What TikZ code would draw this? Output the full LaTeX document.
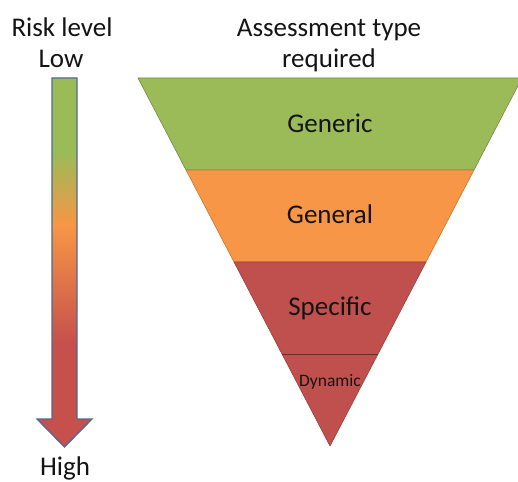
\documentclass[tikz,border=0pt]{standalone}
\usepackage{fontspec}
\setmainfont{Carlito}
\definecolor{lgreen}{HTML}{9BBB59}
\definecolor{lorange}{HTML}{F79646}
\definecolor{lred}{HTML}{C0504D}
\definecolor{rgreen}{HTML}{9BBB59}
\definecolor{rorange}{HTML}{F79646}
\definecolor{rred}{HTML}{C5504C}
\definecolor{arrowedge}{HTML}{4F6A96}
\definecolor{txt}{HTML}{141414}
\pgfdeclareverticalshading{riskshade}{100bp}{color(0bp)=(rred); color(39bp)=(rred); color(55bp)=(rorange); color(65bp)=(rgreen); color(100bp)=(rgreen)}
\begin{document}
\begin{tikzpicture}[x=1pt,y=-1pt,
  lbl/.style={text=txt,font=\fontsize{27}{32}\selectfont,anchor=base,inner sep=0pt},
  small/.style={text=txt,font=\fontsize{17.5}{21}\selectfont,anchor=base,inner sep=0pt},
  layer/.style={line width=0.6pt}]
\useasboundingbox (0,0) rectangle (518,481);
\clip (0,0) rectangle (518,481);
% pyramid layers
\fill[lgreen] (138,78) -- (522,78) -- (474,170) -- (186,170) -- cycle;
\draw[layer,lgreen!75!black] (138,78) -- (522,78) -- (474,170) -- (186,170) -- cycle;
\fill[lorange] (186,170) -- (474,170) -- (426,262) -- (234,262) -- cycle;
\draw[layer,lorange!80!black] (186,170) -- (474,170) -- (426,262) -- (234,262) -- cycle;
\fill[lred] (234,262) -- (426,262) -- (330,446) -- cycle;
\draw[layer,lred!80!black] (234,262) -- (426,262) -- (330,446) -- cycle;
\draw[layer,lred!55!black] (282,354) -- (378,354);
% risk arrow
\shade[shading=riskshade,draw=arrowedge,line width=1.3pt,line join=miter]
  (52,78) -- (77,78) -- (77,419) -- (92,419) -- (64.5,447) -- (37,419) -- (52,419) -- cycle;
% texts
\node[lbl] (risk) at (62,37) {Risk level};
\node[lbl] (low) at (61,68) {Low};
\node[lbl] (high) at (65,475) {High};
\node[lbl] (assess) at (329,37) {Assessment type};
\node[lbl] (req) at (329,68) {required};
\node[lbl] (generic) at (330,132) {Generic};
\node[lbl] (general) at (330,223) {General};
\node[lbl] (specific) at (330,315) {Specific};
\node[small] (dynamic) at (330,386) {Dynamic};
\end{tikzpicture}
\end{document}
